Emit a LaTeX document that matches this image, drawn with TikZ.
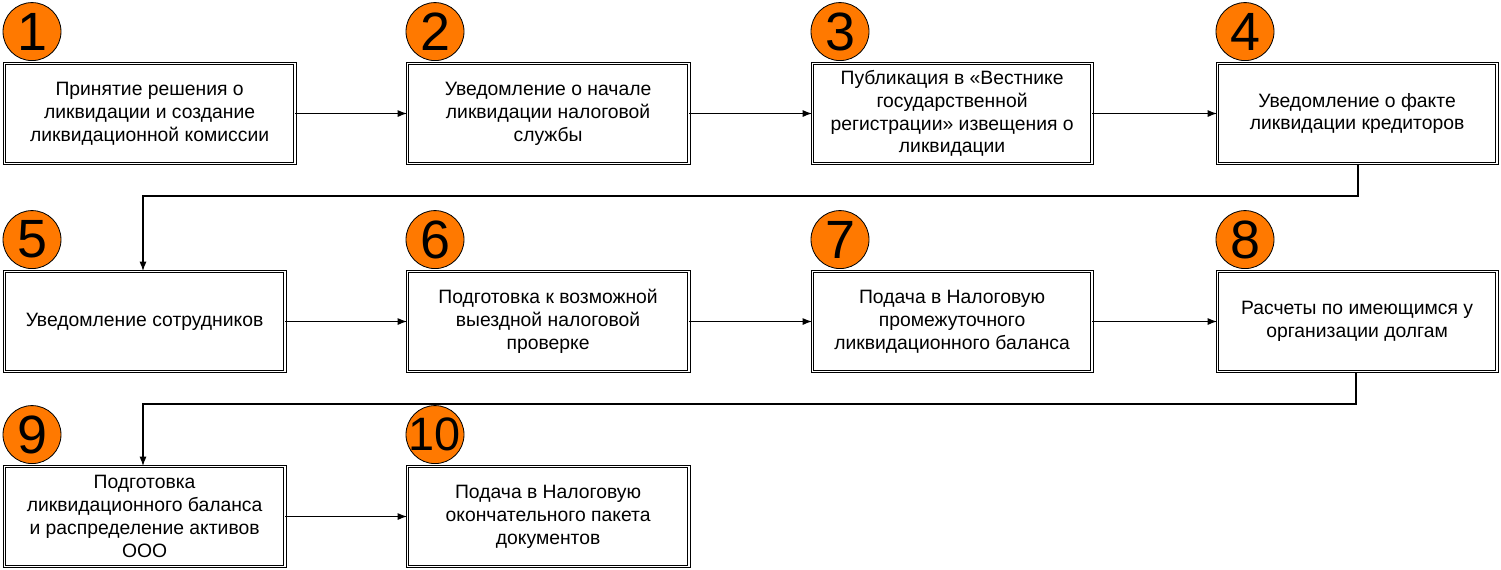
\documentclass[tikz,border=0pt]{standalone}
\usepackage{fontspec}
\setmainfont{Liberation Sans}
\usetikzlibrary{arrows.meta}
\begin{document}
\begin{tikzpicture}[x=0.03cm,y=-0.03cm,
  box/.style={draw, double, double distance=1.5pt, line width=0.9pt, minimum height=100*0.03cm, align=center, font=\fontsize{16.5}{19.5}\selectfont, inner sep=2pt},
  num/.style={circle, draw, line width=0.7pt, fill=orange!95!red, minimum size=58*0.03cm, inner sep=0pt, font=\fontsize{46}{46}\selectfont},
  arr/.style={-{Latex[length=8pt,width=6pt]}, line width=0.9pt}]
\useasboundingbox (0,0) rectangle (1501,570);
\def\bx#1#2#3#4#5#6{% name, x1, x2, y1, num, text
  \node[box, minimum width=(#3-#2)*0.03cm-3.3pt, anchor=north west] (#1) at (#2+2,#4+2) {#6};
  \node[num, anchor=south] (c#1) at (#2+30,#4) {\makebox[0pt]{#5}};}
\bx{b1}{2}{296}{61}{1}{Принятие решения о\\ликвидации и создание\\ликвидационной комиссии}
\bx{b2}{405}{690}{61}{2}{Уведомление о начале\\ликвидации налоговой\\службы}
\bx{b3}{810}{1093}{61}{3}{Публикация в «Вестнике\\государственной\\регистрации» извещения о\\ликвидации}
\bx{b4}{1215}{1498}{61}{4}{Уведомление о факте\\ликвидации кредиторов}
\bx{b5}{2}{286}{269}{5}{Уведомление сотрудников}
\bx{b6}{405}{690}{269}{6}{Подготовка к возможной\\выездной налоговой\\проверке}
\bx{b7}{810}{1093}{269}{7}{Подача в Налоговую\\промежуточного\\ликвидационного баланса}
\bx{b8}{1215}{1498}{269}{8}{Расчеты по имеющимся у\\организации долгам}
\bx{b9}{2}{286}{464}{9}{Подготовка\\ликвидационного баланса\\и распределение активов\\ООО}
\bx{b10}{405}{690}{464}{{\fontsize{40}{40}\selectfont 10}}{Подача в Налоговую\\окончательного пакета\\документов}
\draw[arr] (b1) -- (b2);
\draw[arr] (b2) -- (b3);
\draw[arr] (b3) -- (b4);
\draw[arr] (b5) -- (b6);
\draw[arr] (b6) -- (b7);
\draw[arr] (b7) -- (b8);
\draw[arr] (b9) -- (b10);
\coordinate (k1) at (1358,196);
\coordinate (k2) at (143,196);
\draw[arr] (b4.south -| k1) -- (k1) -- (k2) -- (b5.north -| k2);
\coordinate (k3) at (1356,404);
\coordinate (k4) at (143,404);
\draw[arr] (b8.south -| k3) -- (k3) -- (k4) -- (b9.north -| k4);
\end{tikzpicture}
\end{document}
